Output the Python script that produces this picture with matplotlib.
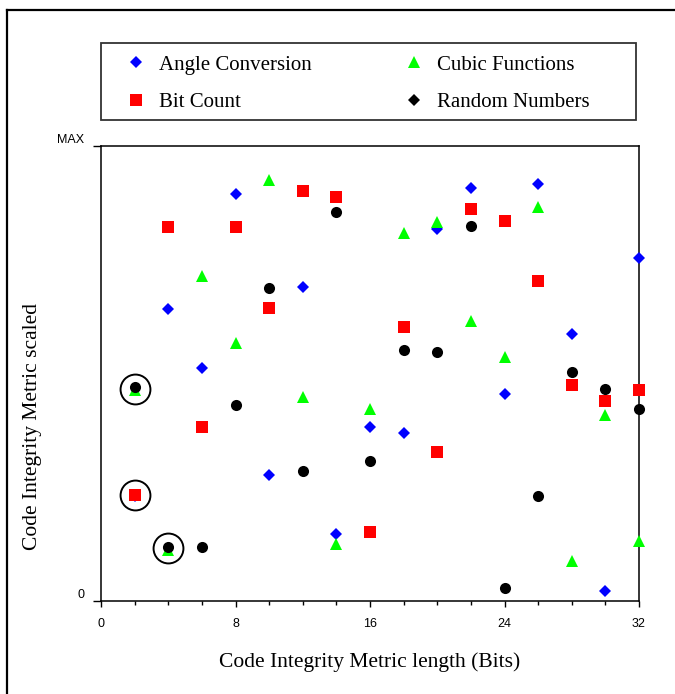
import matplotlib
matplotlib.use('Agg')
import matplotlib.pyplot as plt
from matplotlib.lines import Line2D
from matplotlib.patches import Rectangle

# metric length in bits
x = [2, 4, 6, 8, 10, 12, 14, 16, 18, 20, 22, 24, 26, 28, 30, 32]

# scaled metric, 0 = bottom, 100 = MAX
angle = [23.1, 64.2, 51.3, 89.4, 27.7, 69.1, 14.8, 38.3,
         36.9, 81.7, 90.8, 45.4, 91.6, 58.7, 2.3, 75.3]
bitcount = [23.4, 82.1, 38.2, 82.1, 64.3, 90.2, 88.7, 15.2,
            60.3, 32.7, 86.2, 83.6, 70.3, 47.5, 44.0, 46.4]
cubic = [46.3, 11.2, 71.5, 56.8, 92.5, 44.9, 12.5, 42.3,
         80.8, 83.4, 61.5, 53.7, 86.7, 8.9, 40.9, 13.2]
randnum = [47.0, 11.9, 11.9, 43.0, 68.9, 28.6, 85.4, 30.8,
           55.2, 54.8, 82.5, 2.8, 23.1, 50.4, 46.7, 42.2]

# circled collisions
circ_x = [2, 2, 4]
circ_y = [46.7, 23.3, 11.6]

names = ['Angle Conversion', 'Bit Count', 'Cubic Functions', 'Random Numbers']

W, H = 675, 694
fig = plt.figure(figsize=(W / 100, H / 100), dpi=100)
ax = fig.add_axes([101 / W, 1 - 601 / H, 538 / W, 455 / H])

ax.plot(x, angle, 'D', color='#0000ff', ms=6.4, mew=0, clip_on=False, zorder=3)
ax.plot(x, bitcount, 's', color='#ff0000', ms=8, mew=0, clip_on=False, zorder=4)
ax.plot(x, cubic, '^', color='#00ff00', ms=8.6, mew=0, clip_on=False, zorder=5)
ax.plot(x, randnum, 'o', color='black', ms=8, mew=0, clip_on=False, zorder=6)
ax.plot(circ_x, circ_y, 'o', mfc='none', mec='black', ms=21.5, mew=1.4,
        clip_on=False, zorder=7)

ax.set_xlim(0, 32)
ax.set_ylim(0, 100)
ax.set_xticks([0, 8, 16, 24, 32])
ax.set_xticks(range(0, 33, 2), minor=True)
ax.set_yticks([0, 100])
ax.set_yticklabels(['0', 'MAX'])
for lab in ax.get_yticklabels():
    lab.set_verticalalignment('bottom')
ax.tick_params(axis='x', which='major', direction='out', length=4.5, width=1,
               labelsize=9, pad=8)
ax.tick_params(axis='x', which='minor', direction='out', length=3, width=1)
ax.tick_params(axis='y', direction='out', length=6, width=1, labelsize=9, pad=6)
for lab in ax.get_xticklabels() + ax.get_yticklabels():
    lab.set_family('Liberation Sans')
for sp in ax.spines.values():
    sp.set_linewidth(1.1)

serif = 'Liberation Serif'
fig.text(370 / W, 1 - 662 / H, 'Code Integrity Metric length (Bits)',
         family=serif, fontsize=15.5, ha='center', va='center')
fig.text(33 / W, 1 - 427 / H, 'Code Integrity Metric scaled',
         family=serif, fontsize=15.5, ha='center', va='center', rotation=90)

# legend (black entry shown as a diamond, as in the original)
handles = [
    Line2D([], [], ls='none', marker='D', color='#0000ff', ms=6.4, mew=0),
    Line2D([], [], ls='none', marker='s', color='#ff0000', ms=8, mew=0),
    Line2D([], [], ls='none', marker='^', color='#00ff00', ms=8.6, mew=0),
    Line2D([], [], ls='none', marker='D', color='black', ms=6.4, mew=0),
]
fig.legend(handles, names, loc='center left', ncol=2, frameon=False,
           bbox_to_anchor=(126 / W, 1 - 83.5 / H),
           prop={'family': serif, 'size': 15},
           handlelength=1.0, handletextpad=0.6, columnspacing=4.4,
           labelspacing=0.85, borderpad=0, borderaxespad=0)
fig.add_artist(Rectangle((101 / W, 1 - 120 / H), 535 / W, 77 / H,
                         transform=fig.transFigure, fill=False,
                         ec='#333333', lw=1.3))

# outer frame running off the page
fig.add_artist(Line2D([7 / W, 7 / W], [0, 1 - 10 / H], color='black', lw=1.6,
                      transform=fig.transFigure))
fig.add_artist(Line2D([7 / W, 1], [1 - 10 / H, 1 - 10 / H], color='black',
                      lw=1.6, transform=fig.transFigure))

fig.savefig('out.png', dpi=100)
